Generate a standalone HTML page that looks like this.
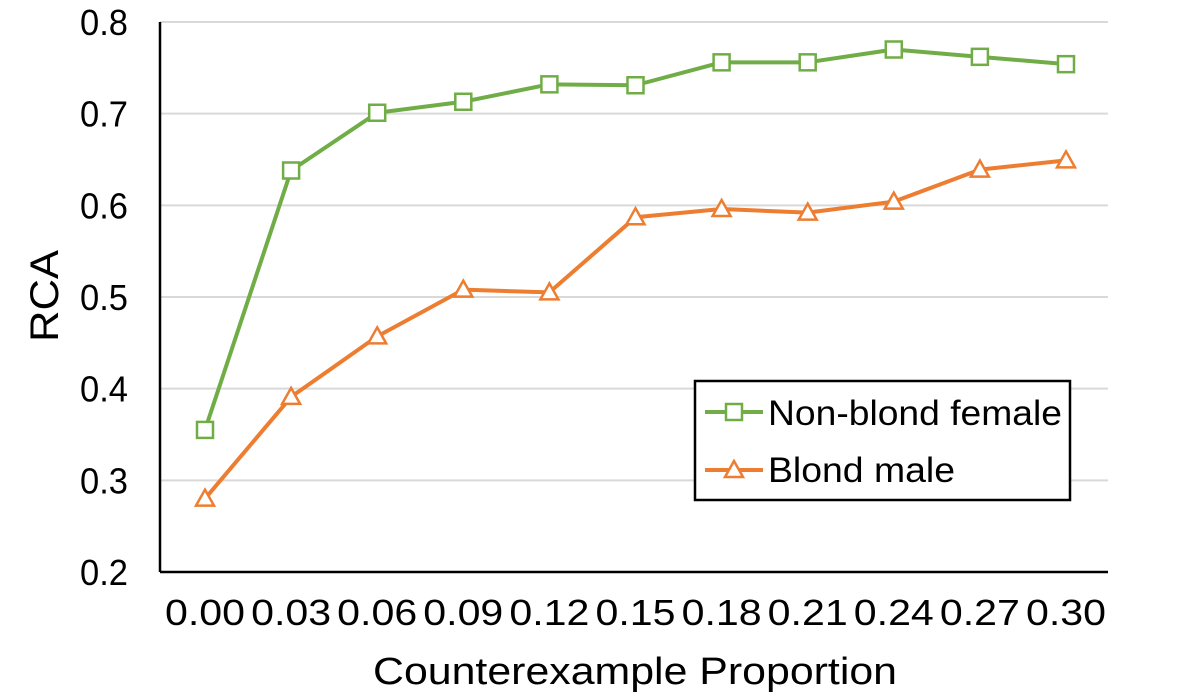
<!DOCTYPE html>
<html><head><meta charset="utf-8"><style>
html,body{margin:0;padding:0;background:#fff;}
svg{display:block;font-family:"Liberation Sans",Arial,sans-serif;}
</style></head><body>
<svg id="chart" width="1183" height="699" viewBox="0 0 1183 699">
<g id="grid"></g>
<g id="axes"></g>
<g id="series"></g>
<text x="58" y="296" font-size="40" text-anchor="middle" textLength="92" lengthAdjust="spacingAndGlyphs" transform="rotate(-90 58 296)">RCA</text>
<text x="635" y="684" font-size="38" text-anchor="middle" textLength="524" lengthAdjust="spacingAndGlyphs">Counterexample Proportion</text>
<g>
<rect x="695" y="381" width="375" height="119" fill="#fff" stroke="#000" stroke-width="2.5"/>
<g>
<line x1="705" y1="412" x2="763" y2="412" stroke="#70ad47" stroke-width="4"/>
<rect x="726" y="404" width="16" height="16" fill="#fff" stroke="#70ad47" stroke-width="2.5"/>
<text x="768" y="425" font-size="35" textLength="294" lengthAdjust="spacingAndGlyphs">Non-blond female</text>
</g>
<g>
<line x1="705" y1="470" x2="763" y2="470" stroke="#ed7d31" stroke-width="4"/>
<polygon points="734,461 743,477 725,477" fill="#fff" stroke="#ed7d31" stroke-width="2.5"/>
<text x="768" y="482" font-size="35" textLength="187" lengthAdjust="spacingAndGlyphs">Blond male</text>
</g>
</g>
</svg>
<script>
const categories = ["0.00","0.03","0.06","0.09","0.12","0.15","0.18","0.21","0.24","0.27","0.30"];
const yTicks = [0.2,0.3,0.4,0.5,0.6,0.7,0.8];
const nonBlondFemale = [0.355,0.638,0.701,0.713,0.732,0.731,0.756,0.756,0.770,0.762,0.754];
const blondMale = [0.280,0.391,0.457,0.508,0.505,0.587,0.596,0.592,0.604,0.639,0.649];

const NS="http://www.w3.org/2000/svg";
const x0=205, x1=1066, yTop=22, yBot=572, left=160, right=1108;
function xScale(i){return x0+(x1-x0)*i/(categories.length-1);}
function yScale(v){return yBot-(v-0.2)/(0.8-0.2)*(yBot-yTop);}
function mk(tag,attrs,parent){const e=document.createElementNS(NS,tag);for(const k in attrs)e.setAttribute(k,attrs[k]);parent.appendChild(e);return e;}
const grid=document.getElementById('grid'),axes=document.getElementById('axes'),series=document.getElementById('series');
yTicks.forEach(t=>{
  const y=yScale(t);
  if(t>0.2){const l=mk('line',{x1:left,x2:right,y1:y,y2:y,stroke:'#d9d9d9','stroke-width':2},grid);
  
  }
  const tx=mk('text',{x:128,y:y+13,'font-size':36,'text-anchor':'end',textLength:48,lengthAdjust:'spacingAndGlyphs'},axes);
  tx.textContent=t.toFixed(1);
  
  
});
const ax=mk('line',{x1:left,x2:left,y1:yTop,y2:yBot,stroke:'#000','stroke-width':2.5},axes);


const bx=mk('line',{x1:left,x2:right,y1:yBot,y2:yBot,stroke:'#000','stroke-width':2.5},axes);


categories.forEach((c,i)=>{
  const tx=mk('text',{x:xScale(i),y:625,'font-size':36,'text-anchor':'middle',textLength:80,lengthAdjust:'spacingAndGlyphs'},axes);
  tx.textContent=c;
  
  
});
function drawSeries(vals,color,marker,name){
  const g=mk('g',{},series);
  
  
  const pts=vals.map((v,i)=>xScale(i)+','+yScale(v)).join(' ');
  const pl=mk('polyline',{points:pts,fill:'none',stroke:color,'stroke-width':4,'stroke-linejoin':'round'},g);
  
  
  vals.forEach((v,i)=>{
    const x=xScale(i),y=yScale(v);let m;
    if(marker==='square') m=mk('rect',{x:x-8,y:y-8,width:16,height:16,fill:'#fff',stroke:color,'stroke-width':2.5},g);
    else m=mk('polygon',{points:`${x},${y-9} ${x+9},${y+7} ${x-9},${y+7}`,fill:'#fff',stroke:color,'stroke-width':2.5},g);
    
    
  });
}
drawSeries(nonBlondFemale,'#70ad47','square','non-blond-female');
drawSeries(blondMale,'#ed7d31','triangle','blond-male');
</script>
</body></html>
